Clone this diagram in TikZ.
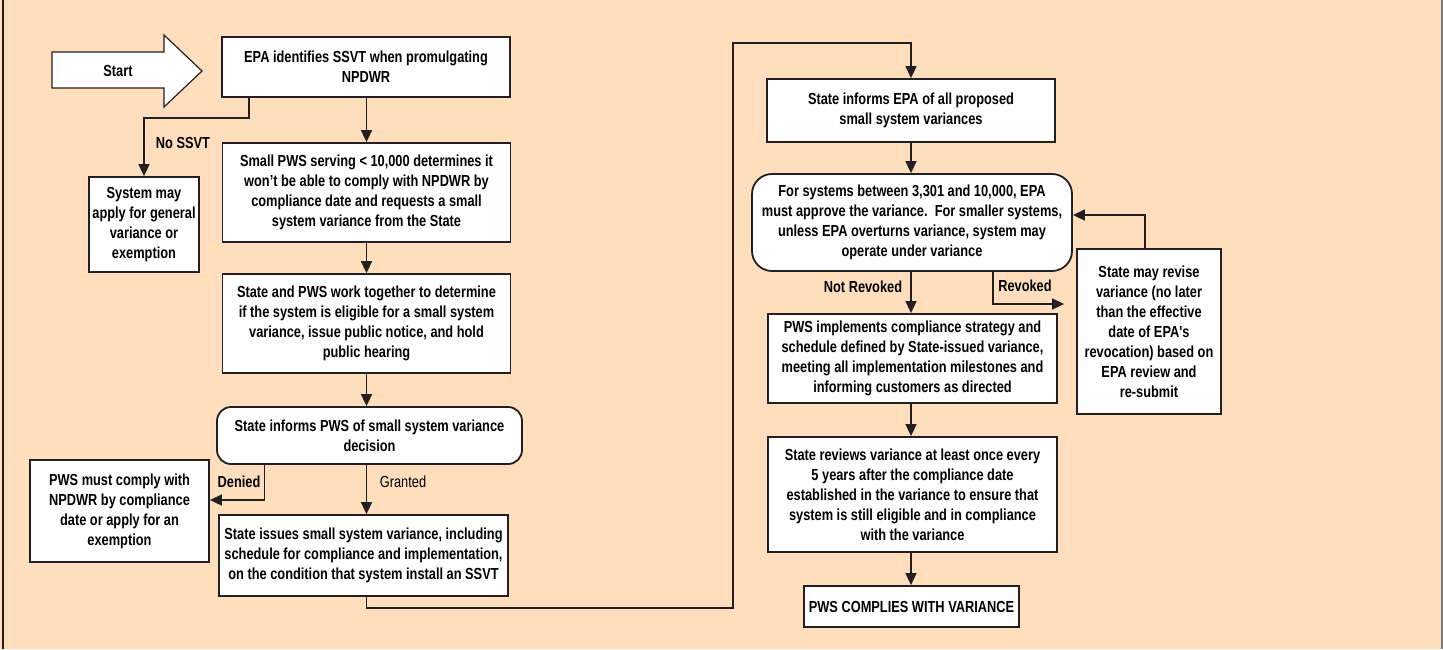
\documentclass[tikz,border=0pt]{standalone}
\usepackage{fontspec}
\newfontfamily\chartfont{Liberation Sans}[FakeStretch=0.8]
\usetikzlibrary{arrows.meta}
\definecolor{peach}{RGB}{255,222,190}
\definecolor{ink}{RGB}{35,31,32}
\tikzset{
  stepbox/.style = {shape = rectangle, draw = ink, fill = white, line width = 1.8pt,
    align = center, inner sep = 0pt, font = \chartfont\bfseries\fontsize{16}{20}\selectfont},
  roundbox/.style = {stepbox, rounded corners = 14pt},
  flow/.style = {draw = ink, line width = 1.6pt, -{Triangle[length=12pt, width=11pt]}},
  tag/.style = {inner sep = 1pt, font = \chartfont\bfseries\fontsize{16}{20}\selectfont},
}
\begin{document}
\begin{tikzpicture}[x = 1pt, y = -1pt]
    \fill [peach] (0, 0) rectangle (1443, 649);
    \useasboundingbox (0, 0) rectangle (1443, 649);
    \draw [ink, line width = 2.5pt] (3, 0) -- (3, 649);
    \draw [ink!60, line width = 1.5pt] (1442, 0) -- (1442, 649);

    % start arrow
    \draw [ink, line width = 1.2pt, fill = white] (52, 52) -- (164, 52) -- (164, 35) -- (202, 71)
      -- (164, 107) -- (164, 88) -- (52, 88) -- cycle;
    \node (start) [tag] at (118, 71) {Start};

    % left column
    \node (epa) [stepbox, minimum width = 288pt, minimum height = 60pt] at (366, 67)
      {EPA identifies SSVT when promulgating\\NPDWR};
    \node (req) [stepbox, minimum width = 288pt, minimum height = 99pt] at (366.5, 192.5)
      {Small PWS serving < 10,000 determines it\\won’t be able to comply with NPDWR by\\compliance date and requests a small\\system variance from the State};
    \node (elig) [stepbox, minimum width = 288pt, minimum height = 99pt] at (366.5, 323.5)
      {State and PWS work together to determine\\if the system is eligible for a small system\\variance, issue public notice, and hold\\public hearing};
    \node (dec) [roundbox, minimum width = 305pt, minimum height = 57pt] at (369.5, 435.5)
      {State informs PWS of small system variance\\decision};
    \node (issue) [stepbox, minimum width = 289pt, minimum height = 81pt] at (363.5, 555.5)
      {State issues small system variance, including\\schedule for compliance and implementation,\\on the condition that system install an SSVT};
    \node (gen) [stepbox, minimum width = 110pt, minimum height = 95pt] at (144, 224.5)
      {System may\\apply for general\\variance or\\exemption};
    \node (must) [stepbox, minimum width = 179pt, minimum height = 102pt] at (119.5, 511)
      {PWS must comply with\\NPDWR by compliance\\date or apply for an\\exemption};

    % right column
    \node (infepa) [stepbox, minimum width = 288pt, minimum height = 63pt] at (911, 110.5)
      {State informs EPA of all proposed\\small system variances};
    \node (appr) [roundbox, rounded corners = 20pt, minimum width = 320pt, minimum height = 97pt] at (912, 222.5)
      {For systems between 3,301 and 10,000, EPA\\must approve the variance.\ \ For smaller systems,\\unless EPA overturns variance, system may\\operate under variance};
    \node (revise) [stepbox, minimum width = 144pt, minimum height = 165pt] at (1149, 331.5)
      {State may revise\\variance (no later\\than the effective\\date of EPA's\\revocation) based on\\EPA review and\\re-submit};
    \node (impl) [stepbox, minimum width = 289pt, minimum height = 89pt] at (912.5, 358.5)
      {PWS implements compliance strategy and\\schedule defined by State-issued variance,\\meeting all implementation milestones and\\informing customers as directed};
    \node (review) [stepbox, minimum width = 289pt, minimum height = 115pt] at (912.5, 494.5)
      {State reviews variance at least once every\\5 years after the compliance date\\established in the variance to ensure that\\system is still eligible and in compliance\\with the variance};
    \node (final) [stepbox, minimum width = 215pt, minimum height = 41pt] at (911.5, 606.5)
      {PWS COMPLIES WITH VARIANCE};

    % labels
    \node (nossvt) [tag] at (183, 143) {No SSVT};
    \node (denied) [tag] at (239, 482) {Denied};
    \node (granted) [tag, font = \chartfont\fontsize{16}{20}\selectfont] at (403, 482) {Granted};
    \node (notrev) [tag] at (863, 287) {Not Revoked};
    \node (rev) [tag] at (1025, 286) {Revoked};

    \coordinate (low) at (733, 608);
    \coordinate (high) at (733, 43);

    \draw [flow] (epa.south -| req) -- (req.north);
    \draw [flow] ([xshift = -117pt]epa.south) -- ++(0, 20) -| (gen.north);
    \draw [flow] (req.south) -- (elig.north);
    \draw [flow] (elig.south) -- (elig.south |- dec.north);
    \draw [flow] (dec.south -| elig) -- (issue.north -| elig);
    \draw [flow] ([xshift = -105pt]dec.south) |- ([yshift = 11pt]must.east);
    \draw [flow] (issue.south -| elig) |- (low) -- (high) -| (infepa.north);
    \draw [flow] (infepa.south) -- (infepa.south |- appr.north);
    \draw [flow] (appr.south -| infepa) -- (impl.north -| infepa);
    \draw [flow] ([xshift = 81pt]appr.south) |- ([xshift = -12pt, yshift = 27.5pt]revise.west);
    \draw [flow] ([xshift = -4pt]revise.north) |- ([yshift = 7.5pt]appr.east);
    \draw [flow] (impl.south -| infepa) -- (review.north -| infepa);
    \draw [flow] (review.south -| infepa) -- (final.north -| infepa);
  \end{tikzpicture}
\end{document}
